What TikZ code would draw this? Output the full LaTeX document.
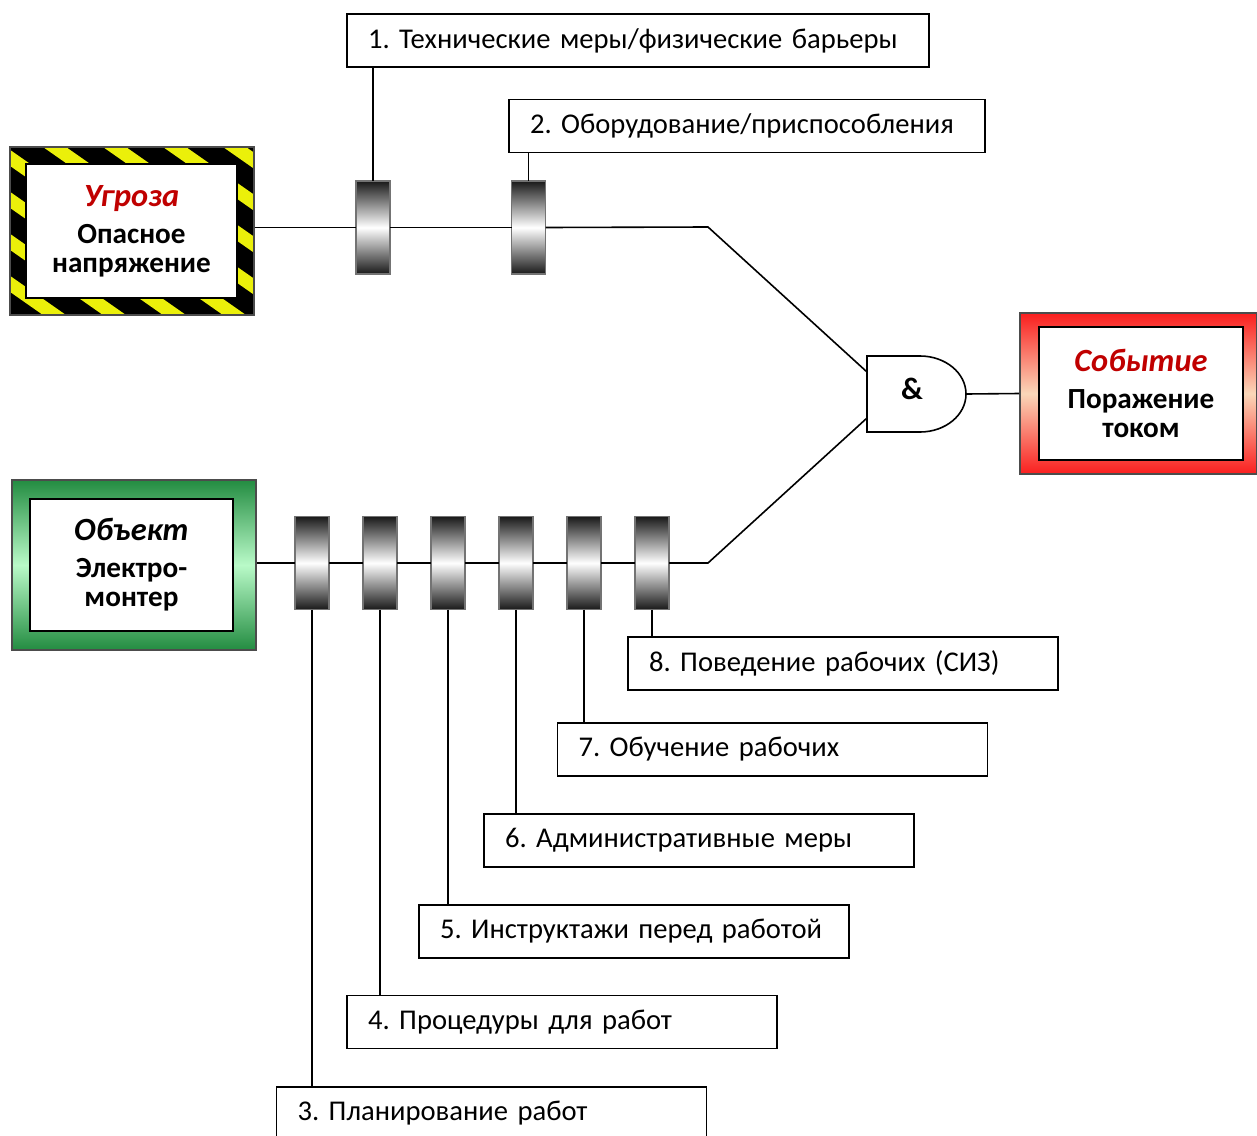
\documentclass[tikz,border=0pt]{standalone}
\usepackage{fontspec}
\setmainfont{Carlito}
\usetikzlibrary{positioning}

\definecolor{tapeyellow}{RGB}{235,240,10}
\definecolor{titlered}{RGB}{192,0,0}
\definecolor{darkgreen}{RGB}{35,140,65}
\definecolor{lightgreen}{RGB}{185,250,200}
\definecolor{eventred}{RGB}{250,30,30}
\definecolor{peach}{RGB}{250,215,185}

\begin{document}
\frenchspacing
\begin{tikzpicture}[x=0.5pt, y=-0.5pt, line width=0.8pt,
    every node/.style={font=\fontsize{14.3}{16}\selectfont},
    barrier/.style={rectangle, draw=black!55, line width=0.6pt, inner sep=0pt, outer sep=0pt,
      minimum width=17pt, minimum height=46.5pt,
      top color=black!90, bottom color=black!90, middle color=white},
    measure/.style={rectangle, draw, inner xsep=10.5pt, minimum height=26.5pt,
      text width=#1, align=left},
    frame/.style={rectangle, draw, inner sep=0pt},
    inbox/.style={frame, fill=white, align=center,
      font=\bfseries\fontsize{14.6}{14.5}\selectfont}]
  \useasboundingbox (0,0) rectangle (1257,1135);

  % hazard, object, event
  \node[frame, draw=black!70, minimum width=122pt, minimum height=84pt, fill=black,
    path picture={\foreach \k in {-4,...,4}{
      \fill[tapeyellow] ([xshift=\k*30pt+16.5pt]path picture bounding box.north west)
        -- ++(11.5pt,0pt) -- ++(120pt,-84pt) -- ++(-11.5pt,0pt) -- cycle;}}]
    (threat) at (132,231) {};
  \node[inbox, minimum width=105.5pt, minimum height=67pt] (threattxt) at (131.5,231)
    {{\color{titlered}\usefont{TU}{\familydefault}{b}{it}\fontsize{16.2}{16}\selectfont Угроза}\\[4pt]
     Опасное\\ напряжение};

  \node[frame, draw=black!70, minimum width=122pt, minimum height=85pt,
    top color=darkgreen, bottom color=darkgreen, middle color=lightgreen]
    (object) at (134,565) {};
  \node[inbox, minimum width=101.5pt, minimum height=66pt] (objecttxt) at (131.5,565)
    {{\usefont{TU}{\familydefault}{b}{it}\fontsize{16.2}{16}\selectfont Объект}\\[4pt]
     Электро-\\ монтер};

  \node[frame, draw=black!70, minimum width=118.5pt, minimum height=80.5pt,
    top color=eventred, bottom color=eventred, middle color=peach]
    (event) at (1138.5,393.5) {};
  \node[inbox, minimum width=102pt, minimum height=66.5pt] (eventtxt) at (1141,393.5)
    {{\color{titlered}\usefont{TU}{\familydefault}{b}{it}\fontsize{16.2}{16}\selectfont Событие}\\[4pt]
     Поражение\\ током};

  % barriers, upper path
  \node[barrier] (b1) at (373,227.5) {};
  \node[barrier] (b2) at (528.5,227.5) {};
  % barriers, lower path
  \node[barrier] (b3) at (312,563) {};
  \node[barrier, right=17pt of b3] (b4) {};
  \node[barrier, right=17pt of b4] (b5) {};
  \node[barrier, right=17pt of b5] (b6) {};
  \node[barrier, right=17pt of b6] (b7) {};
  \node[barrier, right=17pt of b7] (b8) {};

  % and gate
  \draw (867,356) -- (920,356) arc[start angle=90, end angle=-90, x radius=23pt, y radius=19pt]
    -- (867,432) -- cycle;
  \node[font=\bfseries\fontsize{15.5}{16}\selectfont] (and) at (912,389) {\&};
  \coordinate (in1) at (867,372);
  \coordinate (in2) at (867,418);
  \coordinate (out) at (966,394);
  \coordinate (k1) at (708,227);
  \coordinate (k2) at (708,563);

  % measures
  \node[measure=270pt] (m1) at (638,40.5) {1. Технические меры/физические барьеры};
  \node[measure=217pt] (m2) at (747,126) {2. Оборудование/приспособления};
  \node[measure=194pt] (m3) at (491.5,1113.5) {3. Планирование работ};
  \node[measure=194pt] (m4) at (562,1022) {4. Процедуры для работ};
  \node[measure=194pt] (m5) at (634,931.5) {5. Инструктажи перед работой};
  \node[measure=194pt] (m6) at (699,840.5) {6. Административные меры};
  \node[measure=194pt] (m7) at (772.5,749.5) {7. Обучение рабочих};
  \node[measure=194pt] (m8) at (843,663.5) {8. Поведение рабочих (СИЗ)};

  % connectors
  \draw (threat.east |- b1) -- (b1.west);
  \draw (b1.east) -- (b2.west);
  \draw (b2.east) -- (k1) -- (in1);
  \draw (object.east |- b3) -- (b3.west);
  \draw (b3.east) -- (b4.west);
  \draw (b4.east) -- (b5.west);
  \draw (b5.east) -- (b6.west);
  \draw (b6.east) -- (b7.west);
  \draw (b7.east) -- (b8.west);
  \draw (b8.east) -- (k2) -- (in2);
  \draw (out) -- (event.west);

  \draw (b1.north) -- (b1.north |- m1.south);
  \draw (b2.north) -- (b2.north |- m2.south);
  \draw (b3.south) -- (b3.south |- m3.north);
  \draw (b4.south) -- (b4.south |- m4.north);
  \draw (b5.south) -- (b5.south |- m5.north);
  \draw (b6.south) -- (b6.south |- m6.north);
  \draw (b7.south) -- (b7.south |- m7.north);
  \draw (b8.south) -- (b8.south |- m8.north);
\end{tikzpicture}
\end{document}
